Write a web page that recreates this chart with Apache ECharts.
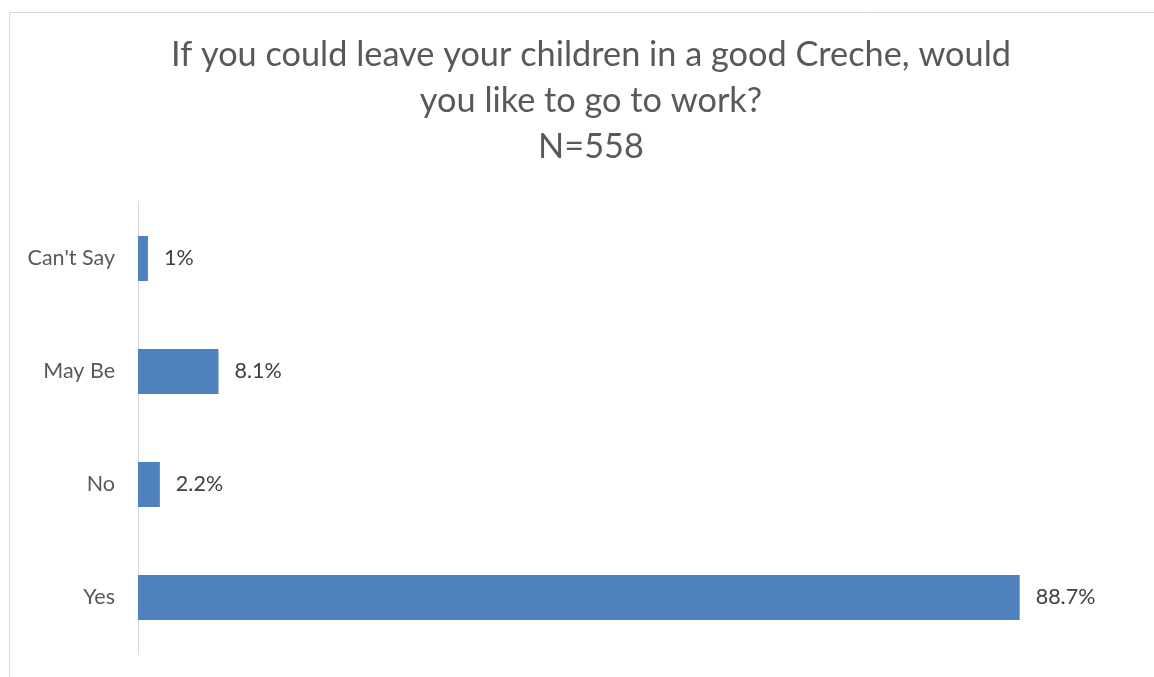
<!DOCTYPE html>
<html>
<head>
<meta charset="utf-8">
<script src="https://cdn.jsdelivr.net/npm/echarts@6/dist/echarts.min.js"></script>
<style>
html,body{margin:0;padding:0;background:#fff;}
#chart{width:1154px;height:677px;}
</style>
</head>
<body>
<div id="chart"></div>
<script>
const titleText = "If you could leave your children in a good Creche, would\nyou like to go to work?\nN=558";
const categories = ["Yes", "No", "May Be", "Can't Say"];
const values = [88.7, 2.2, 8.1, 1];
const valueLabels = ["88.7%", "2.2%", "8.1%", "1%"];

const chart = echarts.init(document.getElementById('chart'), null, {renderer: 'canvas'});
chart.setOption({
  backgroundColor: '#ffffff',
  animation: false,
  graphic: [{
    type: 'rect',
    shape: {x: 9.5, y: 12.5, width: 1300, height: 800},
    style: {fill: 'none', stroke: '#d9d9d9', lineWidth: 1},
    silent: true
  }],
  title: {
    text: titleText,
    left: 586,
    textAlign: 'center',
    top: 27,
    textStyle: {
      fontFamily: 'Lato',
      fontSize: 34.3,
      fontWeight: 'normal',
      color: '#595959',
      lineHeight: 46
    }
  },
  grid: {left: 138, right: 22, top: 202, bottom: 23, containLabel: false},
  xAxis: {
    type: 'value',
    min: 0,
    max: 100,
    show: false
  },
  yAxis: {
    type: 'category',
    data: categories,
    axisLine: {show: true, lineStyle: {color: '#d9d9d9', width: 1}},
    axisTick: {show: false},
    axisLabel: {
      margin: 23,
      fontFamily: 'Lato',
      fontSize: 21.5,
      color: '#595959'
    },
    splitLine: {show: false}
  },
  series: [{
    type: 'bar',
    data: values,
    barWidth: 45,
    itemStyle: {color: '#4f81bd'},
    label: {
      show: true,
      position: 'right',
      distance: 16,
      fontFamily: 'Lato',
      fontSize: 21.5,
      color: '#404040',
      formatter: p => valueLabels[p.dataIndex]
    }
  }]
});
</script>
</body>
</html>
